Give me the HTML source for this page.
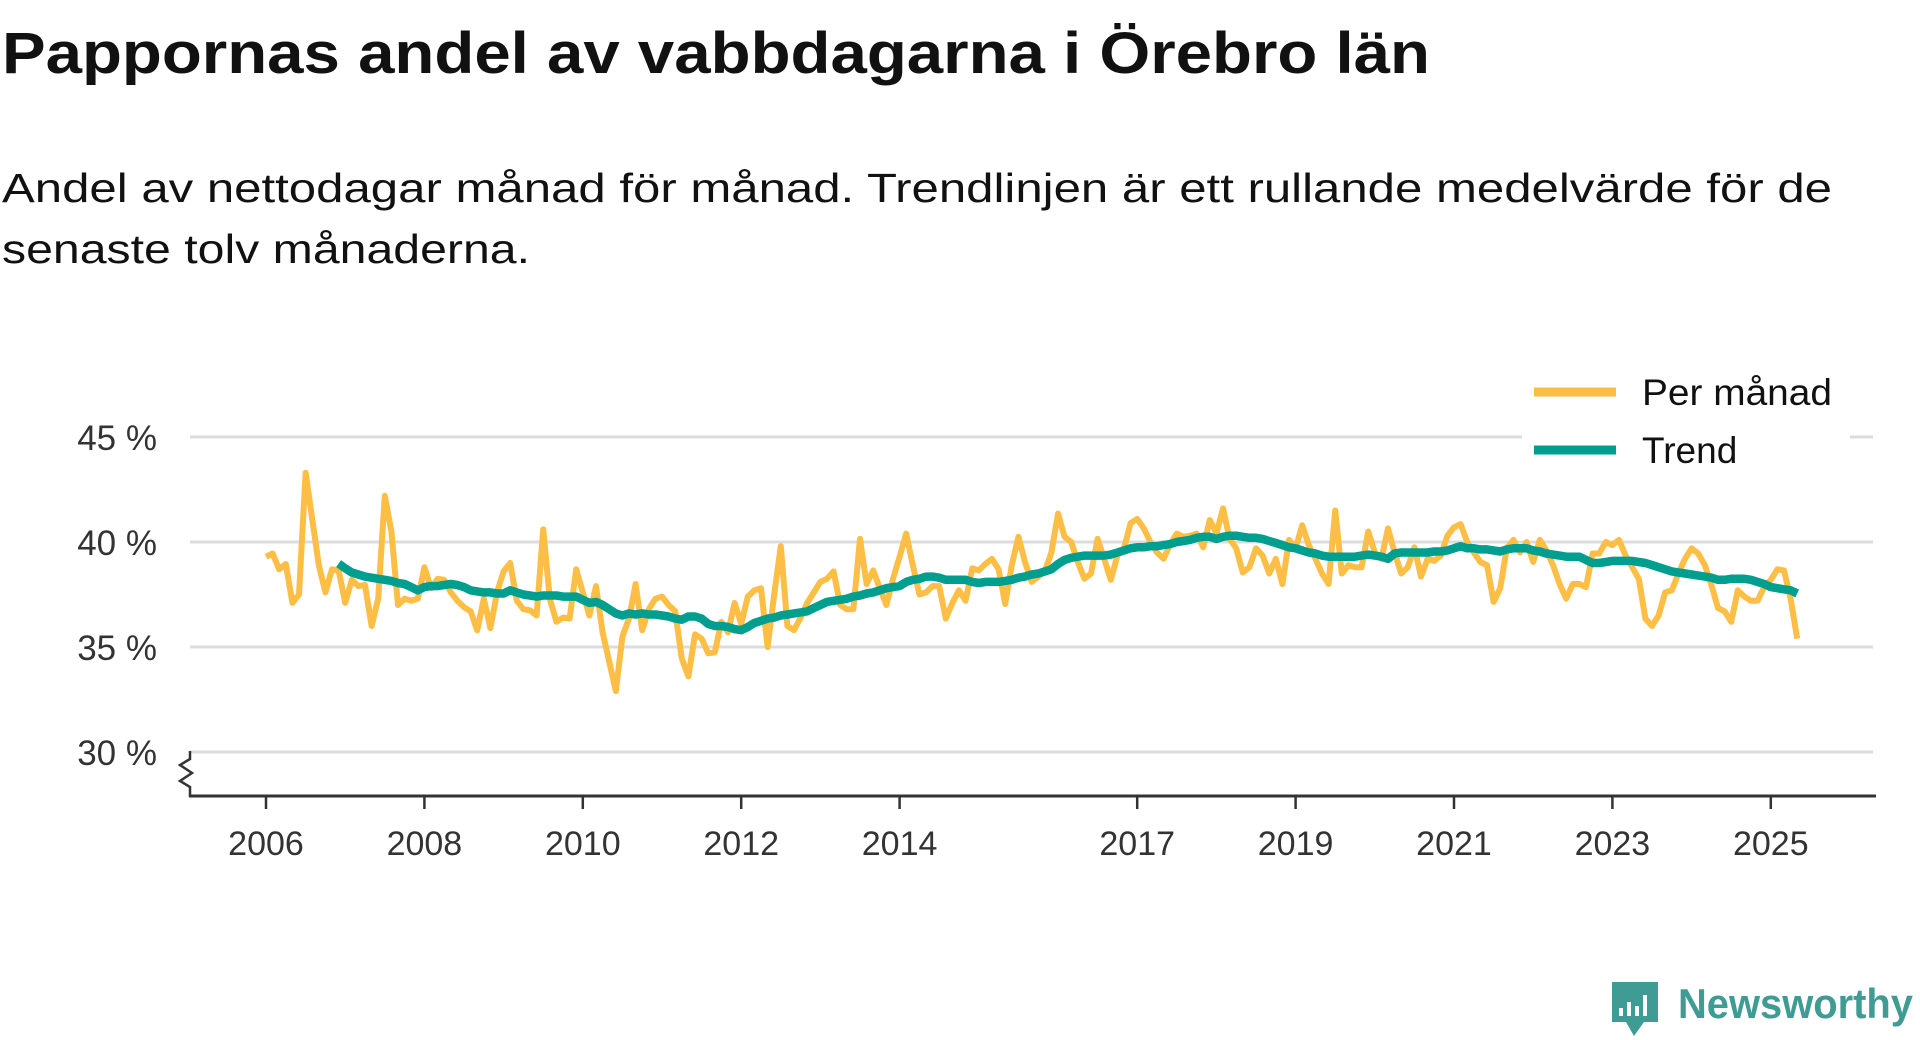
<!DOCTYPE html>
<html><head><meta charset="utf-8"><style>
html,body{margin:0;padding:0;background:#fff;width:1920px;height:1040px;overflow:hidden}
svg{display:block}
text{font-family:"Liberation Sans","DejaVu Sans",sans-serif}
</style></head><body>
<svg id="chart" width="1920" height="1040" viewBox="0 0 1920 1040" xmlns="http://www.w3.org/2000/svg">
<text x="2" y="73" font-size="58" font-weight="bold" fill="#111" textLength="1428" lengthAdjust="spacingAndGlyphs">Pappornas andel av vabbdagarna i Örebro län</text>
<text x="2" y="202" font-size="41" fill="#111" textLength="1830" lengthAdjust="spacingAndGlyphs">Andel av nettodagar månad för månad. Trendlinjen är ett rullande medelvärde för de</text>
<text x="2" y="263" font-size="41" fill="#111" textLength="528" lengthAdjust="spacingAndGlyphs">senaste tolv månaderna.</text>
<g id="grid"></g>
<g id="ylabels"></g>
<g id="xaxis"></g>
<path d="M190,751 L190,759 L180,765 L192,773 L180,781 L190,787 L190,797" fill="none" stroke="#333" stroke-width="2.5"/>
<g id="series"></g>
<g>
<rect x="1522" y="377" width="328" height="95" fill="#fff"/>
<line x1="1534" y1="392" x2="1616" y2="392" stroke="#FDBE46" stroke-width="9"/>
<text x="1642" y="405" font-size="37" fill="#111" textLength="190" lengthAdjust="spacingAndGlyphs">Per månad</text>
<line x1="1534" y1="450" x2="1616" y2="450" stroke="#009E8F" stroke-width="9"/>
<text x="1642" y="463" font-size="37" fill="#111">Trend</text>
</g>
<g>
<path d="M1612,982 h46 v40 h-14 l-10,14 l-8,-14 h-14 z" fill="#3F9C94"/>
<rect x="1619" y="1008" width="4" height="8" fill="#fff"/>
<rect x="1627" y="1002" width="4" height="14" fill="#fff"/>
<rect x="1635" y="1006" width="4" height="10" fill="#fff"/>
<rect x="1643" y="995" width="4" height="21" fill="#fff"/>
<text x="1678" y="1018" font-size="42" font-weight="bold" fill="#3F9C94" textLength="235" lengthAdjust="spacingAndGlyphs">Newsworthy</text>
</g>
</svg>
<script>
const yTicks = [30, 35, 40, 45];
const yTickLabels = ["30 %", "35 %", "40 %", "45 %"];
const xTickYears = [2006, 2008, 2010, 2012, 2014, 2017, 2019, 2021, 2023, 2025];
const startYear = 2006;
const monthly = [39.3,39.45,38.7,38.95,37.1,37.5,43.3,41.1,38.9,37.6,38.7,38.65,
37.1,38.2,37.9,37.95,36.0,37.3,42.2,40.5,37.0,37.3,37.2,37.3,
38.8,37.8,38.25,38.2,37.6,37.2,36.9,36.7,35.8,37.3,35.9,37.6,
38.6,39.0,37.2,36.8,36.75,36.5,40.6,37.3,36.2,36.4,36.35,38.7,
37.6,36.5,37.9,35.7,34.3,32.9,35.5,36.35,38.0,35.8,36.8,37.3,
37.4,37.0,36.7,34.45,33.6,35.6,35.4,34.7,34.75,36.2,35.7,37.1,
36.1,37.4,37.7,37.8,35.0,37.5,39.8,36.0,35.8,36.4,37.1,37.6,
38.1,38.25,38.6,37.0,36.8,36.8,40.15,38.0,38.65,37.8,37.0,38.25,
39.3,40.4,38.9,37.5,37.6,37.9,37.9,36.35,37.1,37.7,37.2,38.75,
38.65,38.95,39.2,38.7,37.05,38.9,40.25,39.05,38.1,38.35,38.6,39.5,
41.35,40.25,40.0,39.05,38.25,38.5,40.15,39.2,38.2,39.35,39.7,40.9,
41.1,40.65,40.0,39.5,39.2,39.9,40.4,40.25,40.3,40.4,39.75,41.05,
40.4,41.6,40.15,39.7,38.55,38.8,39.7,39.35,38.5,39.2,38.0,40.1,
39.7,40.8,39.85,39.2,38.5,38.0,41.5,38.5,38.9,38.8,38.8,40.5,
39.5,39.2,40.65,39.5,38.5,38.8,39.75,38.35,39.2,39.1,39.35,40.3,
40.7,40.85,40.0,39.5,39.05,38.9,37.15,37.8,39.7,40.1,39.5,40.0,
39.05,40.1,39.6,38.9,38.0,37.3,38.0,38.0,37.85,39.45,39.45,40.0,
39.85,40.1,39.35,38.8,38.25,36.35,36.0,36.5,37.6,37.7,38.5,39.2,
39.7,39.45,38.9,37.95,36.85,36.7,36.2,37.7,37.4,37.2,37.2,37.85,
38.2,38.7,38.65,37.3,35.4];
const trendStart = 11;
const trend = [38.97,38.75,38.55,38.45,38.35,38.3,38.25,38.2,38.15,38.05,38.0,37.85,37.7,
37.85,37.9,37.9,37.95,38.0,37.95,37.85,37.7,37.65,37.6,37.6,37.55,
37.55,37.7,37.6,37.5,37.45,37.4,37.45,37.45,37.45,37.4,37.4,37.4,
37.25,37.1,37.15,37.0,36.8,36.6,36.5,36.6,36.55,36.6,36.55,36.55,36.5,
36.45,36.35,36.3,36.45,36.45,36.35,36.1,36.0,36.0,35.95,35.85,35.8,
35.95,36.15,36.25,36.35,36.4,36.5,36.55,36.6,36.65,36.7,36.85,37.0,
37.15,37.2,37.25,37.3,37.4,37.45,37.55,37.6,37.7,37.8,37.85,37.9,
38.1,38.2,38.25,38.35,38.35,38.3,38.2,38.2,38.2,38.2,38.1,38.05,
38.1,38.1,38.1,38.15,38.2,38.3,38.35,38.45,38.5,38.6,38.7,38.95,
39.15,39.25,39.3,39.35,39.35,39.35,39.35,39.4,39.5,39.6,39.7,39.75,
39.75,39.8,39.8,39.85,39.9,40.0,40.05,40.1,40.2,40.25,40.25,40.15,
40.25,40.3,40.3,40.25,40.2,40.2,40.15,40.05,39.95,39.85,39.75,39.7,
39.6,39.5,39.45,39.35,39.3,39.3,39.3,39.3,39.3,39.35,39.4,39.35,
39.3,39.2,39.45,39.5,39.5,39.5,39.5,39.5,39.55,39.55,39.6,39.7,
39.8,39.7,39.7,39.65,39.65,39.6,39.55,39.65,39.7,39.7,39.7,39.6,
39.55,39.45,39.4,39.35,39.3,39.3,39.3,39.15,39.0,39.0,39.05,39.1,
39.1,39.1,39.1,39.05,39.0,38.9,38.8,38.7,38.6,38.55,38.5,38.45,
38.4,38.35,38.3,38.2,38.2,38.25,38.25,38.25,38.2,38.1,38.0,37.85,
37.8,37.75,37.7,37.55];

const NS = "http://www.w3.org/2000/svg";
const x0 = 266, pxPerYear = 79.2;
function xScale(t){ return x0 + (t - startYear) * pxPerYear; }
function xMonth(i){ return xScale(startYear + i / 12); }
function yScale(v){ return 752 - (v - 30) * 21; }
function mk(tag, attrs){ const e = document.createElementNS(NS, tag); for (const k in attrs) e.setAttribute(k, attrs[k]); return e; }

const grid = document.getElementById('grid');
const yl = document.getElementById('ylabels');
yTicks.forEach((v, k) => {
  const l = mk('line', {x1:190, x2:1873, y1:yScale(v), y2:yScale(v), stroke:'#dcdcdc', 'stroke-width':3});
  
  
  grid.appendChild(l);
  const t = mk('text', {x:157, y:yScale(v)+13, 'font-size':35, fill:'#333', 'text-anchor':'end'});
  
  
  t.textContent = yTickLabels[k];
  yl.appendChild(t);
});
const xa = document.getElementById('xaxis');
const axisLine = mk('line', {x1:189, x2:1876, y1:796, y2:796, stroke:'#333', 'stroke-width':3});


xa.appendChild(axisLine);
xTickYears.forEach(yr => {
  const x = xScale(yr);
  const tk = mk('line', {x1:x, x2:x, y1:796, y2:809, stroke:'#333', 'stroke-width':2.5});
  
  
  xa.appendChild(tk);
  const t = mk('text', {x:x, y:855, 'font-size':34, fill:'#333', 'text-anchor':'middle'});
  
  
  t.textContent = yr;
  xa.appendChild(t);
});
const series = document.getElementById('series');
const pm = mk('path', {d: monthly.map((v,i)=>(i?'L':'M')+xMonth(i).toFixed(1)+','+yScale(v).toFixed(1)).join(''), fill:'none', stroke:'#FDBE46', 'stroke-width':6, 'stroke-linejoin':'round'});


series.appendChild(pm);
const tr = mk('path', {d: trend.map((v,i)=>(i?'L':'M')+xMonth(i+trendStart).toFixed(1)+','+yScale(v).toFixed(1)).join(''), fill:'none', stroke:'#009E8F', 'stroke-width':8.5, 'stroke-linejoin':'round'});


series.appendChild(tr);
</script>
</body></html>
